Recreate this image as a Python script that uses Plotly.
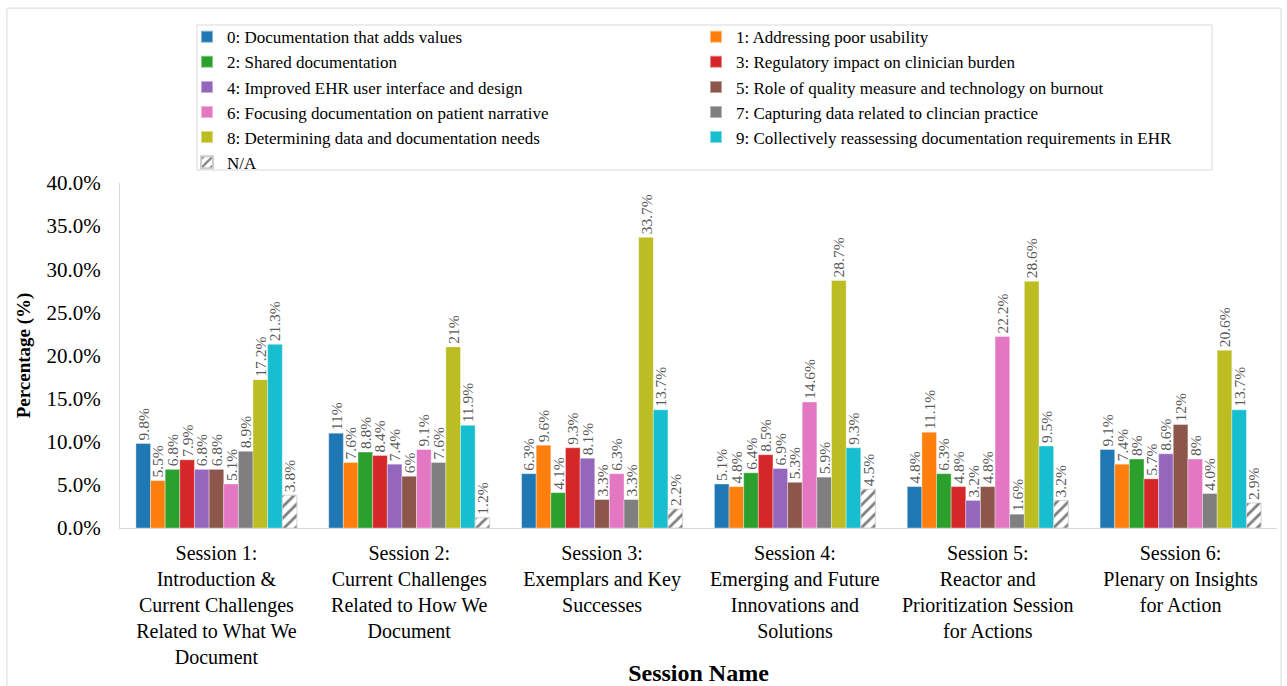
import plotly.graph_objects as go

sessions = [
    "Session 1:<br>Introduction &<br>Current Challenges<br>Related to What We<br>Document",
    "Session 2:<br>Current Challenges<br>Related to How We<br>Document",
    "Session 3:<br>Exemplars and Key<br>Successes",
    "Session 4:<br>Emerging and Future<br>Innovations and<br>Solutions",
    "Session 5:<br>Reactor and<br>Prioritization Session<br>for Actions",
    "Session 6:<br>Plenary on Insights<br>for Action",
]

topics = [
    "0: Documentation that adds values",
    "1: Addressing poor usability",
    "2: Shared documentation",
    "3: Regulatory impact on clinician burden",
    "4: Improved EHR user interface and design",
    "5: Role of quality measure and technology on burnout",
    "6: Focusing documentation on patient narrative",
    "7: Capturing data related to clincian practice",
    "8: Determining data and documentation needs",
    "9: Collectively reassessing documentation requirements in EHR",
    "N/A",
]

# values per session (order of topics 0..9, N/A)
s1 = [9.8, 5.5, 6.8, 7.9, 6.8, 6.8, 5.1, 8.9, 17.2, 21.3, 3.8]
s2 = [11.0, 7.6, 8.8, 8.4, 7.4, 6.0, 9.1, 7.6, 21.0, 11.9, 1.2]
s3 = [6.3, 9.6, 4.1, 9.3, 8.1, 3.3, 6.3, 3.3, 33.7, 13.7, 2.2]
s4 = [5.1, 4.8, 6.4, 8.5, 6.9, 5.3, 14.6, 5.9, 28.7, 9.3, 4.5]
s5 = [4.8, 11.1, 6.3, 4.8, 3.2, 4.8, 22.2, 1.6, 28.6, 9.5, 3.2]
s6 = [9.1, 7.4, 8.0, 5.7, 8.6, 12.0, 8.0, 4.0, 20.6, 13.7, 2.9]

# data label texts as printed in the chart
t1 = ["9.8%", "5.5%", "6.8%", "7.9%", "6.8%", "6.8%", "5.1%", "8.9%", "17.2%", "21.3%", "3.8%"]
t2 = ["11%", "7.6%", "8.8%", "8.4%", "7.4%", "6%", "9.1%", "7.6%", "21%", "11.9%", "1.2%"]
t3 = ["6.3%", "9.6%", "4.1%", "9.3%", "8.1%", "3.3%", "6.3%", "3.3%", "33.7%", "13.7%", "2.2%"]
t4 = ["5.1%", "4.8%", "6.4%", "8.5%", "6.9%", "5.3%", "14.6%", "5.9%", "28.7%", "9.3%", "4.5%"]
t5 = ["4.8%", "11.1%", "6.3%", "4.8%", "3.2%", "4.8%", "22.2%", "1.6%", "28.6%", "9.5%", "3.2%"]
t6 = ["9.1%", "7.4%", "8%", "5.7%", "8.6%", "12%", "8%", "4.0%", "20.6%", "13.7%", "2.9%"]

colors = ["#1f77b4", "#ff7f0e", "#2ca02c", "#d62728", "#9467bd",
          "#8c564b", "#e377c2", "#7f7f7f", "#bcbd22", "#17becf", "#ffffff"]

ytick_vals = [0, 5, 10, 15, 20, 25, 30, 35, 40]
ytick_text = ["0.0%", "5.0%", "10.0%", "15.0%", "20.0%", "25.0%", "30.0%", "35.0%", "40.0%"]

values = [s1, s2, s3, s4, s5, s6]
texts = [t1, t2, t3, t4, t5, t6]

FONT = "Liberation Serif, Times New Roman, serif"

fig = go.Figure()
for i, name in enumerate(topics):
    y = [v[i] for v in values]
    txt = [t[i] for t in texts]
    marker = dict(color=colors[i], line=dict(color="rgba(255,255,255,0.45)", width=0.8))
    if name == "N/A":
        marker = dict(color="white",
                      line=dict(color="#cccccc", width=0.8),
                      pattern=dict(shape="/", fgcolor="black", bgcolor="white",
                                   size=8, solidity=0.35))
    fig.add_trace(go.Bar(
        x=sessions, y=y, name=name, marker=marker,
        text=txt, textposition="outside", textangle=-90,
        textfont=dict(family=FONT, size=15.5, color="#595959"),
        cliponaxis=False, constraintext="none",
    ))

fig.update_layout(
    width=1287, height=686,
    paper_bgcolor="white", plot_bgcolor="white",
    margin=dict(l=120, r=10, t=183, b=158, autoexpand=False),
    font=dict(family=FONT, color="black"),
    barmode="group", bargap=0.165, bargroupgap=0,
    showlegend=True,
    legend=dict(
        orientation="h", x=0.0579, y=1.475, xanchor="left", yanchor="top",
        entrywidth=464, entrywidthmode="pixels",
        font=dict(family=FONT, size=17, color="black"),
        borderwidth=0, bgcolor="rgba(0,0,0,0)",
        traceorder="normal", itemsizing="constant",
    ),
    xaxis=dict(
        showline=True, linecolor="#d9d9d9", linewidth=1,
        ticks="", tickfont=dict(family=FONT, size=20, color="black"),
        ticklabelstandoff=7,
        title=dict(text="<b>Session Name</b>", font=dict(family=FONT, size=24, color="black"),
                   standoff=0),
        showgrid=False,
    ),
    yaxis=dict(
        range=[0, 40], tickvals=ytick_vals, ticktext=ytick_text,
        showline=True, linecolor="#d9d9d9", linewidth=1,
        ticks="", tickfont=dict(family=FONT, size=21, color="black"),
        ticklabelstandoff=14,
        title=dict(text="<b>Percentage (%)</b>", font=dict(family=FONT, size=19, color="black"),
                   standoff=10),
        showgrid=False, zeroline=False,
    ),
)

# outer frame
fig.add_shape(type="rect", xref="paper", yref="paper",
              x0=-0.0977, x1=1.0035, y0=-0.5, y1=1.507,
              line=dict(color="#d9d9d9", width=1), fillcolor="rgba(0,0,0,0)", layer="below")
# legend frame
fig.add_shape(type="rect", xref="paper", yref="paper",
              x0=(197 - 120) / 1157, x1=(1212 - 120) / 1157,
              y0=(528 - 170) / 345, y1=(528 - 25) / 345,
              line=dict(color="#d9d9d9", width=1), fillcolor="rgba(0,0,0,0)", layer="below")

fig.write_html("out.html")
